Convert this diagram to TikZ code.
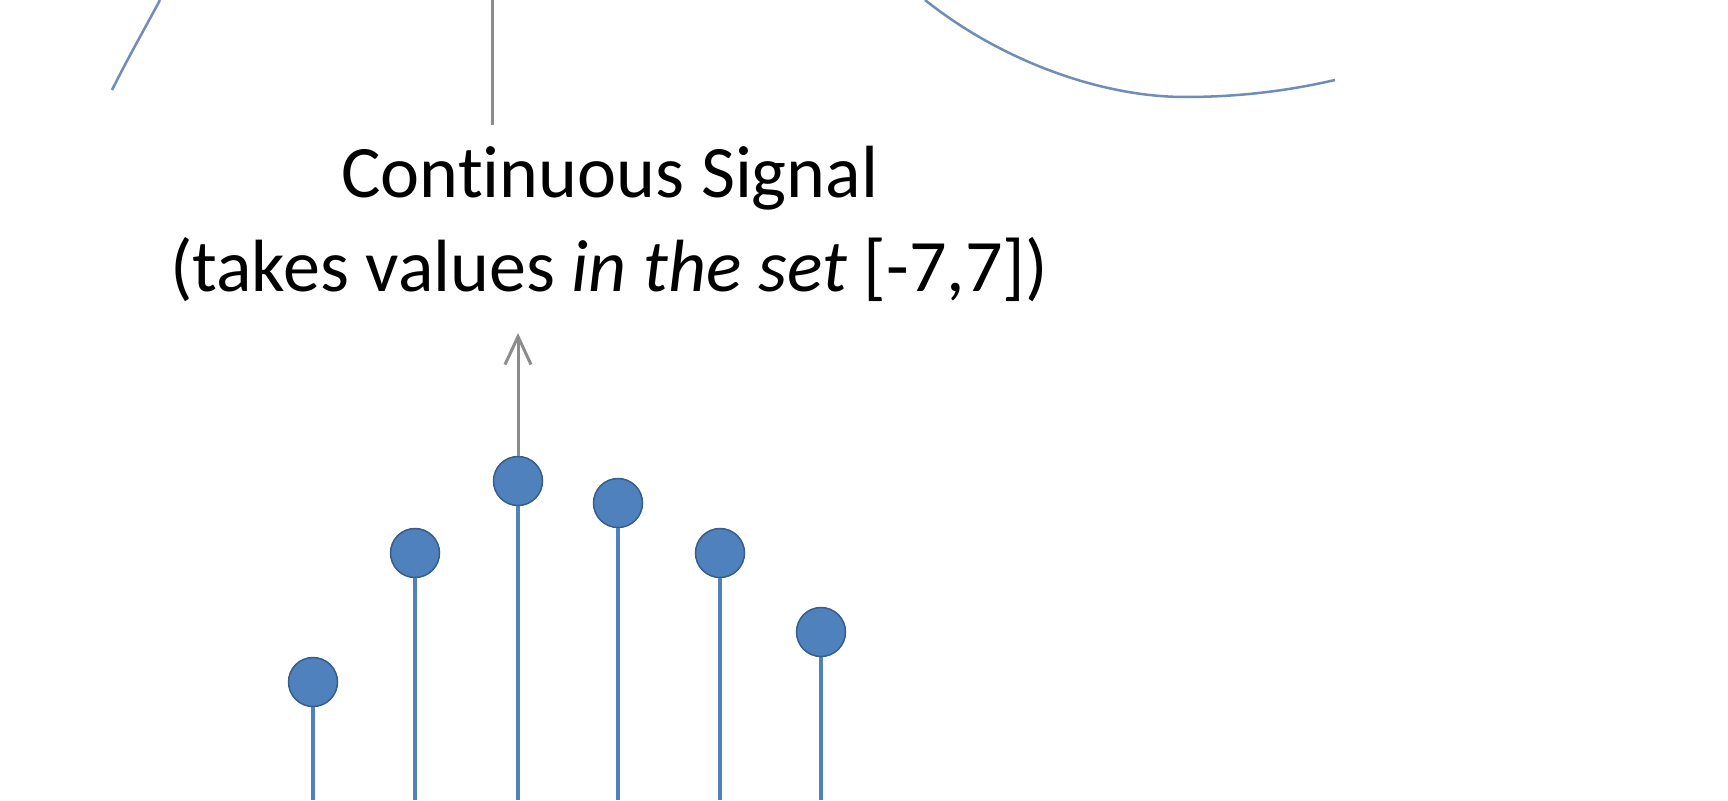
\documentclass[tikz,border=0pt]{standalone}
\usepackage{fontspec}
\setmainfont{Carlito}[Ligatures=NoCommon]
\usetikzlibrary{arrows.meta}
\definecolor{stemblue}{HTML}{4F81BD}
\definecolor{dotedge}{HTML}{385D8A}
\definecolor{curveblue}{HTML}{6F8DB8}
\definecolor{arrowgray}{HTML}{8C8C8C}
\begin{document}
\begin{tikzpicture}[x=1pt,y=-1pt,
  dot/.style={circle,fill=stemblue,draw=dotedge,line width=1.5pt,minimum size=49pt,inner sep=0pt},
  stem/.style={draw=stemblue,line width=3.5pt},
  wave/.style={draw=curveblue,line width=2.5pt},
  grayline/.style={draw=arrowgray,line width=3pt},
  lbl/.style={font=\fontsize{74}{90}\selectfont,inner sep=0pt,text=black}]
\useasboundingbox[fill=white] (0,0) rectangle (1728,800);
% top waves
\coordinate (w1a) at (112,90);
\coordinate (w1b) at (160,0);
\draw[wave] (w1a) .. controls (128,58) and (145,28) .. (w1b);
\coordinate (w2a) at (925,0);
\coordinate (w2m) at (1185,97);
\coordinate (w2b) at (1335,80);
\draw[wave] (w2a) .. controls (1000,60) and (1100,97) .. (w2m) .. controls (1250,97) and (1300,88) .. (w2b);
% top gray line
\coordinate (g1) at (492,0);
\coordinate (g2) at (492,125);
\draw[grayline] (g1) -- (g2);
% labels
\node[lbl] (t1) at (610,178) {Continuous Signal};
\node[lbl] (t2) at (609,270) {(takes values \textit{in the set} [-7,7])};
% dots and stems
\foreach \i/\x/\y in {1/313/682,2/415/553,3/518/481,4/618/503,5/720/553,6/821/632}{
  \node[dot] (d\i) at (\x,\y) {};
  \coordinate (b\i) at (\x,800);
  \draw[stem] (d\i) -- (b\i);
}
% arrow
\coordinate (atip) at (518,333);
\draw[grayline,-{Straight Barb[length=28pt,width=26pt,line width=3pt]}] (d3) -- (atip);
\end{tikzpicture}
\end{document}
